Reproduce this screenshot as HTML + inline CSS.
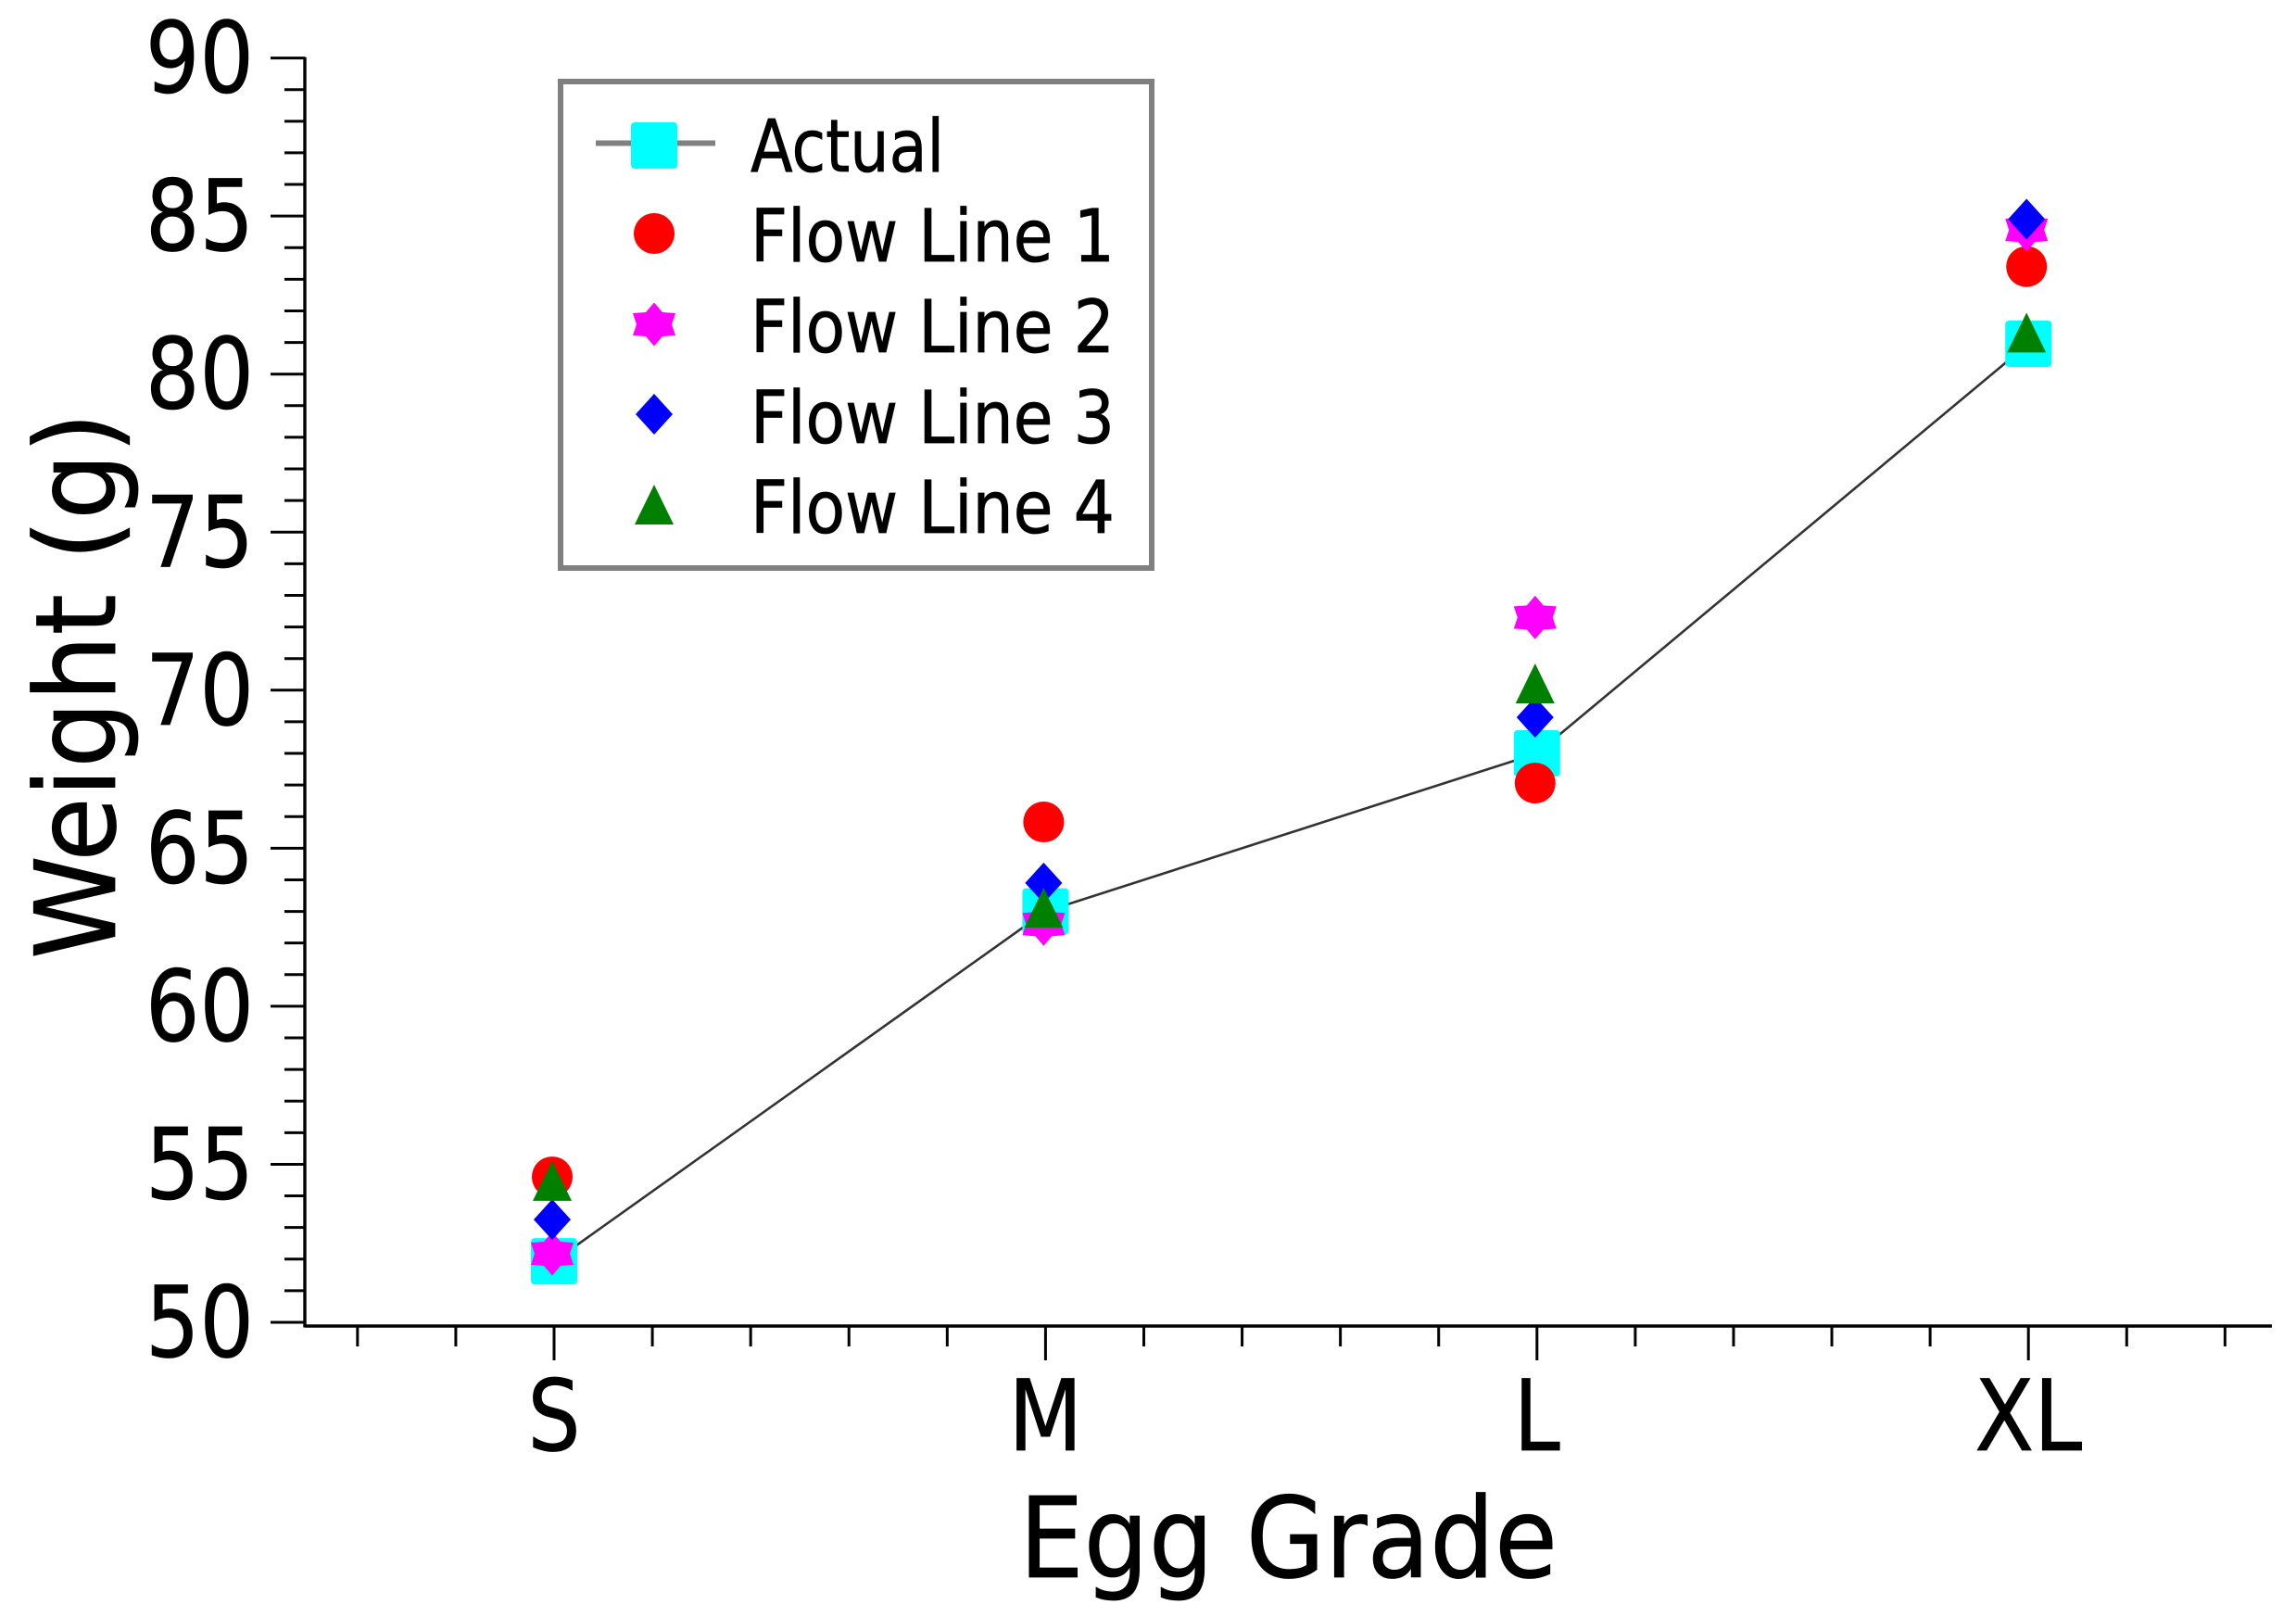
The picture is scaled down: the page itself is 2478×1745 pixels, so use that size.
<!DOCTYPE html>
<html>
<head>
<meta charset="utf-8">
<title>Egg Grade vs Weight</title>
<style>
html,body{margin:0;padding:0;background:#fff;width:2478px;height:1745px;overflow:hidden}
svg{display:block}
text{font-family:"DejaVu Sans","Liberation Sans",sans-serif;fill:#000;stroke:#000;stroke-width:0.8px}
</style>
</head>
<body>
<svg id="chart" xmlns="http://www.w3.org/2000/svg" width="2478" height="1745" viewBox="0 0 2478 1745">
<rect x="0" y="0" width="2478" height="1745" fill="#fff"/>
</svg>
<script>
const categories = ['S', 'M', 'L', 'XL'];
const actual = [51.93, 63.0, 68.0, 80.96];
const flowLine1 = [54.6, 65.83, 67.06, 83.4];
const flowLine2 = [52.17, 62.6, 72.3, 84.56];
const flowLine3 = [53.25, 63.9, 69.14, 84.9];
const flowLine4 = [54.46, 63.1, 70.2, 81.3];
const yTickLabels = [50, 55, 60, 65, 70, 75, 80, 85, 90];
const legendLabels = ['Actual', 'Flow Line 1', 'Flow Line 2', 'Flow Line 3', 'Flow Line 4'];

const NS = 'http://www.w3.org/2000/svg';
const svg = document.getElementById('chart');
const yScale = v => 1427 - (v - 50) * 34.11;
const xScale = i => 598 + 530.4 * i;

function mk(tag, attrs, parent) {
  const el = document.createElementNS(NS, tag);
  for (const k in attrs) el.setAttribute(k, attrs[k]);
  (parent || svg).appendChild(el);
  return el;
}
function label(str, x, y, size, anchor, len, parent) {
  const t = mk('text', {x: x, y: y, 'font-size': size, 'text-anchor': anchor}, parent);
  t.textContent = str;
  if (len) {
    t.setAttribute('textLength', len);
    t.setAttribute('lengthAdjust', 'spacingAndGlyphs');
  }
  return t;
}
function pts(cx, cy, list) {
  return list.map(p => (cx + p[0]) + ',' + (cy + p[1])).join(' ');
}
function marker(kind, cx, cy) {
  if (kind === 'square') {
    return mk('rect', {x: cx - 25, y: cy - 25, width: 50, height: 50, rx: 4, fill: '#00ffff'});
  }
  if (kind === 'circle') {
    return mk('circle', {cx: cx, cy: cy, r: 22, fill: '#ff0000'});
  }
  if (kind === 'star') {
    return mk('polygon', {fill: '#ff00ff', points: pts(cx, cy, [[0,-23.5],[9,-13],[23,-12],[19,0],[23,12],[9,13],[0,23.5],[-9,13],[-23,12],[-19,0],[-23,-12],[-9,-13]])});
  }
  if (kind === 'diamond') {
    return mk('polygon', {fill: '#0000ff', points: pts(cx, cy, [[0,-22],[20,0],[0,22],[-20,0]])});
  }
  return mk('polygon', {fill: '#008000', points: pts(cx, cy, [[0,-22],[21,21],[-21,21]])});
}

/* Y axis */
const yAxisLine = mk('line', {x1: 329, y1: yScale(90) - 1, x2: 329, y2: 1432.5, stroke: '#000', 'stroke-width': 3.4});


for (let v = 50; v <= 90; v++) {
  const major = v % 5 === 0;
  const tick = mk('line', {x1: major ? 292 : 307, y1: yScale(v), x2: 329, y2: yScale(v), stroke: '#000', 'stroke-width': 3});
  
  
}
yTickLabels.forEach(v => {
  const t = label(String(v), 274, yScale(v) + 37, 106, 'end', 117);
  
  
});

/* X axis */
const xAxisLine = mk('line', {x1: 329, y1: 1431, x2: 2452, y2: 1431, stroke: '#000', 'stroke-width': 3.4});


for (let n = -2; n <= 17; n++) {
  const major = n % 5 === 0;
  const tick = mk('line', {x1: xScale(n / 5), y1: 1431, x2: xScale(n / 5), y2: major ? 1468 : 1453, stroke: '#000', 'stroke-width': 3});
  
  
}
const xLabelWidths = [57, 80, 50, 116];
categories.forEach((c, i) => {
  const t = label(c, xScale(i) - xLabelWidths[i] / 2, 1565, 106, 'start', xLabelWidths[i]);
  
  
});

/* Axis titles */
const xTitle = label('Egg Grade', 1100, 1702, 120, 'start', 581);


const yTitle = label('Weight (g)', 0, 0, 120, 'start', 590);
yTitle.setAttribute('transform', 'translate(124,1035) rotate(-90)');



/* Actual line */
const line = mk('polyline', {fill: 'none', stroke: '#333', 'stroke-width': 2.6, points: actual.map((v, i) => xScale(i) + ',' + yScale(v)).join(' ')});



/* Series markers */
actual.forEach((v, i) => {
  const m = marker('square', xScale(i), yScale(v));
  
  
});
flowLine1.forEach((v, i) => {
  const m = marker('circle', xScale(i) - 2, yScale(v));
  
  
});
flowLine2.forEach((v, i) => {
  const m = marker('star', xScale(i) - 2, yScale(v));
  
  
});
flowLine3.forEach((v, i) => {
  const m = marker('diamond', xScale(i) - 2, yScale(v));
  
  
});
flowLine4.forEach((v, i) => {
  const m = marker('triangle', xScale(i) - 2, yScale(v));
  
  
});

/* Legend */
const legendBox = mk('rect', {x: 605, y: 88, width: 638, height: 525, fill: '#fff', stroke: '#808080', 'stroke-width': 6});


const legendSample = mk('line', {x1: 643, y1: 154.5, x2: 772, y2: 154.5, stroke: '#808080', 'stroke-width': 6});


const legendKinds = ['square', 'circle', 'star', 'diamond', 'triangle'];
const legendBaselines = [185, 282, 380, 478, 575];
const legendMarkerY = [157, 252, 350, 447, 545];
const legendWidths = [209, 393, 393, 393, 393];
legendLabels.forEach((name, i) => {
  const m = marker(legendKinds[i], 706, legendMarkerY[i]);
  
  
  const t = label(name, 810, legendBaselines[i], 78, 'start', legendWidths[i]);
  
  
});
</script>
</body>
</html>
